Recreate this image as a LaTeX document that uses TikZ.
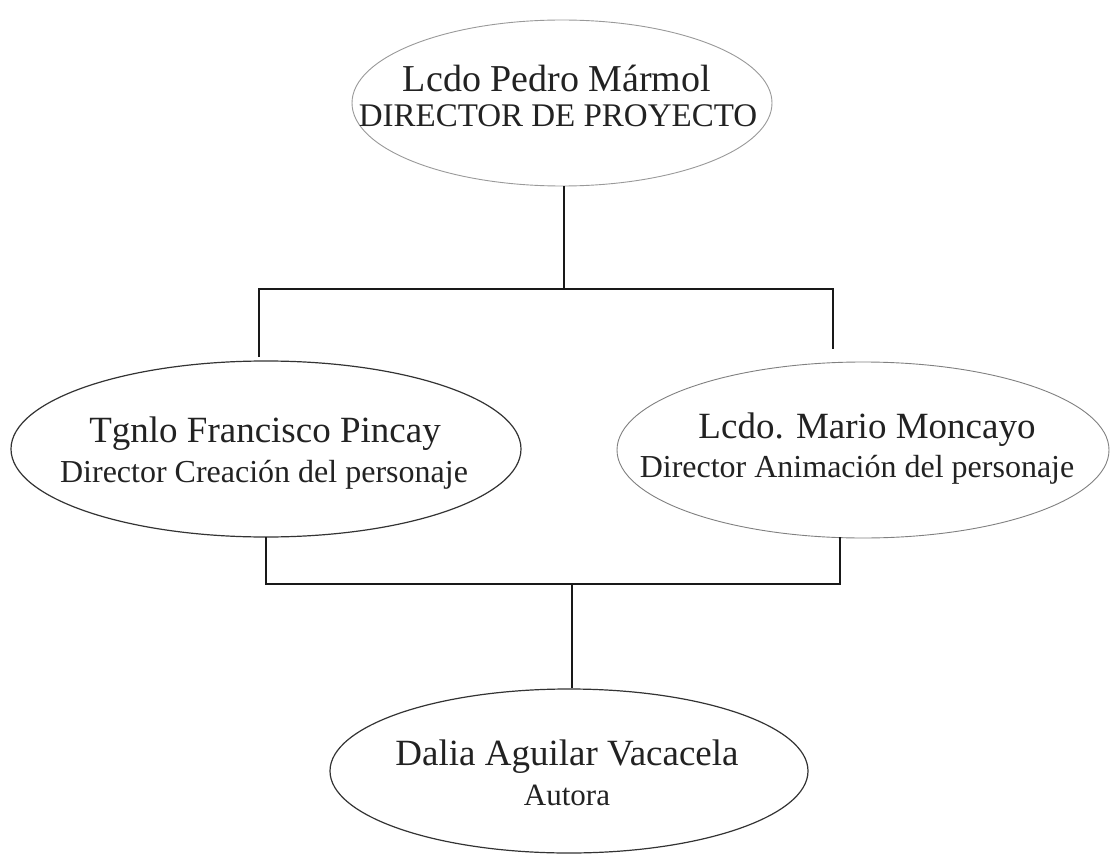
\documentclass[tikz,border=0pt]{standalone}
\usepackage{fontspec}
\setmainfont{Liberation Serif}
\usetikzlibrary{shapes.geometric}
\definecolor{txt}{HTML}{222222}
\tikzset{
  x=1pt, y=-1pt,
  ell/.style={ellipse, draw, inner sep=0pt},
  lightell/.style={ell, draw=black!40, line width=0.9pt},
  midell/.style={ell, draw=black!50, line width=0.9pt},
  darkell/.style={ell, draw=black!80, line width=1.2pt},
  conn/.style={draw=black!90, line width=1.7pt},
  big/.style={anchor=base, text=txt, inner sep=0pt, font=\fontsize{37}{40}\selectfont},
  small/.style={anchor=base, text=txt, inner sep=0pt, font=\fontsize{32}{36}\selectfont},
}
\begin{document}
\begin{tikzpicture}
\useasboundingbox (0,0) rectangle (1111,864);
\fill[white] (0,0) rectangle (1111,864);
% ellipses
\node[lightell, minimum width=420pt, minimum height=166pt] (top) at (562,103) {};
\node[darkell, minimum width=510pt, minimum height=176pt] (left) at (266,449) {};
\node[midell, minimum width=492pt, minimum height=176pt] (right) at (863,450) {};
\node[darkell, minimum width=478pt, minimum height=164pt] (bot) at (569,771) {};
% texts
\node[big, font=\fontsize{38}{40}\selectfont] (topA) at (557,92) {Lcdo Pedro Mármol};
\node[small, font=\fontsize{33}{36}\selectfont] (topB) at (558,127) {DIRECTOR DE PROYECTO};
\node[big] (leftA) at (265,442) {Tgnlo Francisco Pincay};
\node[small] (leftB) at (264,482) {Director Creación del personaje};
\node[big] (rightA) at (867,438) {Lcdo. Mario Moncayo};
\node[small] (rightB) at (857,477) {Director Animación del personaje};
\node[big] (botA) at (567,765) {Dalia Aguilar Vacacela};
\node[small, font=\fontsize{31}{34}\selectfont] (botB) at (567,805) {Autora};
% connector coordinates
\coordinate (jt) at (564,289);
\coordinate (lt) at (259,357);
\coordinate (rt) at (833,349);
\coordinate (lb) at (266,537);
\coordinate (rb) at (840,537);
\coordinate (jb) at (572,584);
% connectors
\draw[conn] (jt |- top.south) -- (jt);
\draw[conn] (lt) -- (lt |- jt) -- (rt |- jt) -- (rt);
\draw[conn] (lb) -- (lb |- jb) -- (rb |- jb) -- (rb);
\draw[conn] (jb) -- (jb |- bot.north);
\end{tikzpicture}
\end{document}
